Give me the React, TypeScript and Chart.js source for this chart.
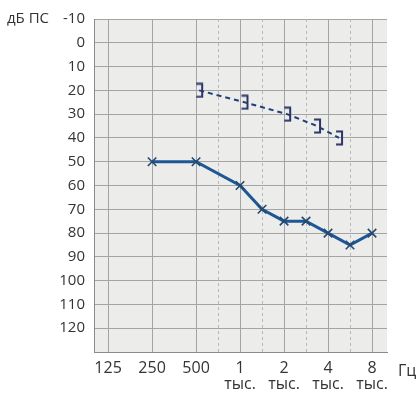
import React, { useEffect, useRef } from "react";
import { Chart, registerables } from "chart.js";

Chart.register(...registerables);

// Frequency axis: octave positions (0 = 125 Hz ... 6 = 8 kHz)
const freqPositions = [0, 1, 2, 3, 4, 5, 6];
const freqLabels: string[][] = [["125"], ["250"], ["500"], ["1", "тыс."], ["2", "тыс."], ["4", "тыс."], ["8", "тыс."]];
const halfOctavePositions = [2.5, 3.5, 4.5, 5.5];

// Air conduction (solid line, crosses)
const airPos = [1, 2, 3, 3.5, 4, 4.5, 5, 5.5, 6];
const airDb = [50, 50, 60, 70, 75, 75, 80, 85, 80];

// Bone conduction (dashed line, brackets)
const bonePos = [2.07, 3.1, 4.07, 4.75, 5.25];
const boneDb = [20, 25, 30, 35, 40];

const yMin = -10;
const yMax = 130;

function makeBracket(): HTMLCanvasElement {
  const c = document.createElement("canvas");
  c.width = 12;
  c.height = 16;
  const ctx = c.getContext("2d")!;
  ctx.strokeStyle = "#2a3566";
  ctx.lineWidth = 2;
  ctx.beginPath();
  ctx.moveTo(3, 1.5);
  ctx.lineTo(9, 1.5);
  ctx.lineTo(9, 14.5);
  ctx.lineTo(3, 14.5);
  ctx.stroke();
  return c;
}

export default function App() {
  const ref = useRef<HTMLCanvasElement>(null);
  useEffect(() => {
    if (!ref.current) return;
    const bracket = makeBracket();
    const extras = {
      id: "extras",
      beforeDatasetsDraw(chart: any) {
        const { ctx, chartArea, scales } = chart;
        ctx.save();
        ctx.strokeStyle = "#b8b8b8";
        ctx.lineWidth = 1;
        ctx.setLineDash([3, 3]);
        for (const p of halfOctavePositions) {
          const x = Math.round(scales.x.getPixelForValue(p)) + 0.5;
          ctx.beginPath();
          ctx.moveTo(x, chartArea.top);
          ctx.lineTo(x, chartArea.bottom);
          ctx.stroke();
        }
        ctx.restore();
      },
      afterDraw(chart: any) {
        const { ctx, chartArea, scales } = chart;
        ctx.save();
        ctx.fillStyle = "#333";
        ctx.font = "15px 'Open Sans'";
        ctx.textAlign = "left";
        ctx.textBaseline = "middle";
        ctx.fillText("дБ ПС", 7, scales.y.getPixelForValue(-10));
        ctx.font = "16px 'Open Sans'";
        ctx.fillText("Гц", 398, chartArea.bottom + 19);
        ctx.restore();
      },
    };
    const bg = {
      id: "bg",
      beforeDraw(chart: any) {
        const { ctx, chartArea } = chart;
        ctx.save();
        ctx.fillStyle = "#ececeb";
        ctx.fillRect(chartArea.left, chartArea.top, chartArea.right - chartArea.left, chartArea.bottom - chartArea.top);
        ctx.restore();
      },
    };
    const chart = new Chart(ref.current, {
      type: "line",
      data: {
        datasets: [
          {
            label: "air",
            data: airPos.map((x, i) => ({ x, y: airDb[i] })),
            borderColor: "#1d5796",
            borderWidth: 3,
            pointStyle: "crossRot",
            pointRadius: 6,
            pointBorderWidth: 1.6,
            pointBorderColor: "#23496e",
            pointBackgroundColor: "#23496e",
            tension: 0,
          },
          {
            label: "bone",
            data: bonePos.map((x, i) => ({ x, y: boneDb[i] })),
            borderColor: "#1e3f78",
            borderWidth: 2,
            borderDash: [5, 4],
            pointStyle: bracket as any,
            pointRadius: 6,
            tension: 0,
          },
        ],
      },
      options: {
        animation: false,
        responsive: true,
        maintainAspectRatio: false,
        layout: { padding: { top: 19, right: 32, left: 0, bottom: 0 } },
        plugins: { legend: { display: false }, tooltip: { enabled: false } },
        scales: {
          x: {
            type: "linear",
            min: -0.32,
            max: 6.34,
            afterFit: (s: any) => {
              s.height = 44;
            },
            afterBuildTicks: (s: any) => {
              s.ticks = freqPositions.map((v) => ({ value: v }));
            },
            ticks: {
              autoSkip: false,
              maxRotation: 0,
              padding: 8,
              color: "#333",
              font: { family: "'Open Sans'", size: 16, lineHeight: 1.0 },
              callback: (v: any) => {
                const i = freqPositions.indexOf(Number(v));
                return i >= 0 ? freqLabels[i] : "";
              },
            },
            grid: { color: "#a4a4a4", lineWidth: 1, drawTicks: false },
            border: { color: "#8a8a8a", width: 1 },
          },
          y: {
            type: "linear",
            reverse: true,
            min: yMin,
            max: yMax,
            afterFit: (s: any) => {
              s.width = 94;
            },
            ticks: {
              stepSize: 10,
              padding: 9,
              color: "#333",
              font: { family: "'Open Sans'", size: 15 },
              callback: (v: any) => (Number(v) >= 130 ? "" : String(v)),
            },
            grid: { color: "#a4a4a4", lineWidth: 1, drawTicks: false },
            border: { color: "#8a8a8a", width: 1 },
          },
        },
      },
      plugins: [bg, extras],
    });
    return () => chart.destroy();
  }, []);
  return (
    <div style={{ position: "absolute", left: 0, top: 0, width: 419, height: 396, background: "#fff" }}>
      <canvas ref={ref} />
    </div>
  );
}
